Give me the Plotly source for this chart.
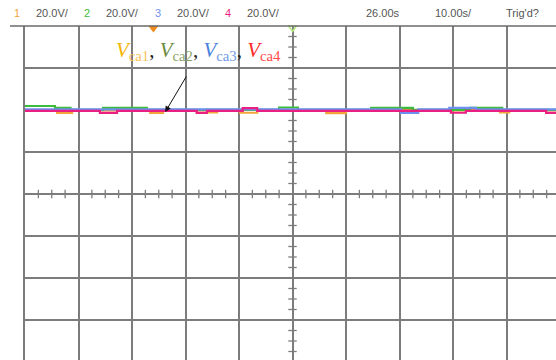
import numpy as np
import plotly.graph_objects as go

# Scope settings
volts_per_div = 20.0
secs_per_div = 10.0
delay_s = 26.0
channel_names = ["1", "2", "3", "4"]
channel_colors = ["#f2a53a", "#3dbb3d", "#6d8ff0", "#ea1f83"]
status_scale = ["20.0V/", "20.0V/", "20.0V/", "20.0V/"]

# Captured waveforms (step-wise, seconds vs volts)
ch1_t = [-24, -18.0, -15.2, -0.6, 1.8, 8.1, 11.9, 16.2, 19.4, 32.3, 36.0, 64.8, 66.5, 75.3]
ch1_v = [39.8, 38.6, 39.8, 38.6, 39.8, 38.8, 39.8, 38.7, 39.8, 38.5, 39.8, 38.9, 39.8, 39.8]

ch2_t = [-24, -18.4, -15.5, -9.4, -1.2, 23.5, 27.0, 40.7, 48.5, 59.2, 65.2, 75.3]
ch2_v = [41.9, 41.0, 40.1, 41.0, 40.1, 41.2, 40.1, 41.0, 40.1, 41.0, 40.1, 40.1]

ch3_t = [-24, 46.3, 49.5, 55.3, 60.3, 75.3]
ch3_v = [40.3, 38.6, 40.3, 41.0, 40.3, 40.3]

ch4_t = [-24, -10.0, -6.8, 8.1, 10.0, 16.7, 19.4, 55.6, 58.4, 73.4, 75.3]
ch4_v = [39.6, 38.6, 39.6, 38.6, 39.6, 40.9, 39.6, 38.7, 39.6, 38.6, 38.6]

W, H = 556, 360
ML, MT = 25, 26
div_px_x, div_px_y = 53.5, 42.0
t_left = delay_s - 5 * secs_per_div
t_right = t_left + (W - ML) / div_px_x * secs_per_div
v_top = 4 * volts_per_div
v_bottom = v_top - (H - MT) / div_px_y * volts_per_div

grid_col = "#7c7c7c"

fig = go.Figure()

for t, v, c in [(ch1_t, ch1_v, channel_colors[0]), (ch2_t, ch2_v, channel_colors[1]),
                (ch3_t, ch3_v, channel_colors[2]), (ch4_t, ch4_v, channel_colors[3])]:
    fig.add_trace(go.Scatter(x=t, y=v, mode="lines", line=dict(color=c, width=2.2, shape="hv"),
                             hoverinfo="skip", showlegend=False))

# Sub-division ticks on the centre axes
sub_t = [x for x in np.arange(t_left, t_right, secs_per_div / 4) if abs((x - t_left) % secs_per_div) > 1e-6]
sub_v = [y for y in np.arange(-4 * volts_per_div, v_top, volts_per_div / 4) if abs(y % volts_per_div) > 1e-6]
fig.add_trace(go.Scatter(x=sub_t, y=[0] * len(sub_t), mode="markers",
                         marker=dict(symbol="line-ns", size=6, line=dict(color=grid_col, width=1.3)),
                         hoverinfo="skip", showlegend=False))
fig.add_trace(go.Scatter(x=[delay_s] * len(sub_v), y=sub_v, mode="markers",
                         marker=dict(symbol="line-ew", size=6, line=dict(color=grid_col, width=1.3)),
                         hoverinfo="skip", showlegend=False))

# Trigger and delay markers along the top edge
fig.add_trace(go.Scatter(x=[0], y=[v_top - 1.0], mode="markers", cliponaxis=False,
                         marker=dict(symbol="triangle-down", size=9, color="#f08a1c"),
                         hoverinfo="skip", showlegend=False))
fig.add_trace(go.Scatter(x=[delay_s], y=[v_top - 0.8], mode="markers", cliponaxis=False,
                         marker=dict(symbol="triangle-down-open", size=7, line=dict(color="#f0a030", width=1.5)),
                         hoverinfo="skip", showlegend=False))

# Ground reference marker for channel 4
gx = t_left - 4 / div_px_x * secs_per_div
fig.add_trace(go.Scatter(x=[gx - 0.9], y=[0.5], mode="markers", cliponaxis=False,
                         marker=dict(symbol="square", size=5, color="#8fb0f0"),
                         hoverinfo="skip", showlegend=False))
fig.add_trace(go.Scatter(x=[gx], y=[0], mode="markers", cliponaxis=False,
                         marker=dict(symbol="triangle-right", size=8, color=channel_colors[3]),
                         hoverinfo="skip", showlegend=False))
fig.add_trace(go.Scatter(x=[gx - 0.9], y=[-2.6], mode="markers", cliponaxis=False,
                         marker=dict(symbol="line-ew", size=7, line=dict(color=channel_colors[3], width=1.5)),
                         hoverinfo="skip", showlegend=False))


def px_x(p):
    return (p - ML) / (W - ML)


def px_y(p):
    return (H - p) / (H - MT)


# Status bar
status_font = dict(family="Liberation Sans, Arial", size=11, color="#555555")
num_x = [17, 87, 158, 228]
for name, col, scale, nx in zip(channel_names, channel_colors, status_scale, num_x):
    fig.add_annotation(x=px_x(nx), y=px_y(13), xref="paper", yref="paper", text=name,
                       showarrow=False, xanchor="center", yanchor="middle",
                       font=dict(family="Liberation Sans, Arial", size=11, color=col))
    fig.add_annotation(x=px_x(nx + 17), y=px_y(13), xref="paper", yref="paper", text=scale,
                       showarrow=False, xanchor="left", yanchor="middle", font=status_font)
for txt, x0 in [("26.00s", 364), ("10.00s/", 433), ("Trig'd?", 504)]:
    fig.add_annotation(x=px_x(x0), y=px_y(13), xref="paper", yref="paper", text=txt,
                       showarrow=False, xanchor="left", yanchor="middle", font=status_font)

# Waveform label
label_cols = [("#f5b400", "#f7c35a"), ("#6d8b3c", "#8aa466"), ("#4a82e0", "#6f9ae6"), ("#ff2a2a", "#ff4a4a")]
parts = []
for i, (cv, cs) in enumerate(label_cols):
    seg = f'<span style="color:{cv}"><i>V</i></span><span style="color:{cs}"><sub>ca{i+1}</sub></span>'
    parts.append(seg)
label = '<span style="color:#222">, </span>'.join(parts)
fig.add_annotation(x=px_x(114), y=px_y(51), xref="paper", yref="paper", text=label,
                   showarrow=False, xanchor="left", yanchor="middle",
                   font=dict(family="Liberation Serif, Times New Roman", size=21))

fig.add_annotation(x=2.2, y=39.0, xref="x", yref="y", text="", showarrow=True,
                   ax=22, ay=-37, arrowhead=2, arrowsize=1.2, arrowwidth=1, arrowcolor="#111111")

# Top border of the screen
fig.add_shape(type="line", xref="paper", yref="paper", x0=px_x(10), x1=1, y0=1, y1=1,
              line=dict(color="#6a6a6a", width=1.5))

fig.update_xaxes(range=[t_left, t_right], dtick=secs_per_div, tick0=t_left, showgrid=True,
                 gridcolor=grid_col, gridwidth=1.5, zeroline=False, showticklabels=False,
                 ticks="", showline=False)
fig.update_yaxes(range=[v_bottom, v_top], dtick=volts_per_div, tick0=0, showgrid=True,
                 gridcolor=grid_col, gridwidth=1.5, zeroline=False, showticklabels=False,
                 ticks="", showline=True, linecolor=grid_col, linewidth=1.5)

fig.update_layout(width=W, height=H, margin=dict(l=ML, r=0, t=MT, b=0),
                  paper_bgcolor="white", plot_bgcolor="white", showlegend=False)

fig.write_html("out.html")
